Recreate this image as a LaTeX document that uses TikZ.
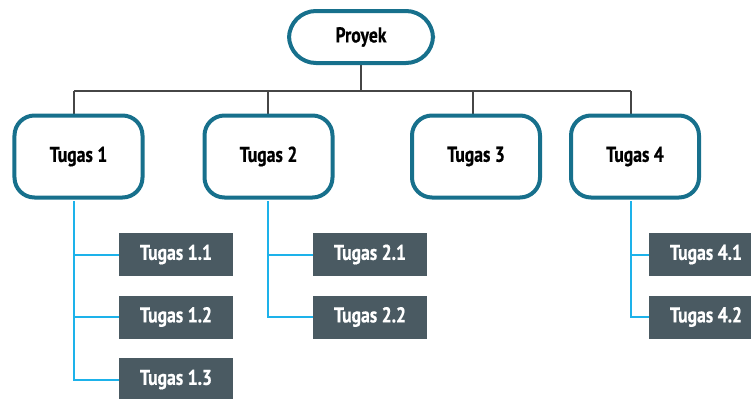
\documentclass[tikz,border=0pt]{standalone}
\usepackage{fontspec}
\setmainfont{PT Sans}[FakeStretch=0.82, BoldFeatures={FakeBold=0.6}]
\definecolor{frame}{HTML}{17708C}
\definecolor{subfill}{HTML}{4A5A62}
\definecolor{trunk}{HTML}{464646}
\definecolor{twig}{HTML}{1DB2EA}
\tikzset{
  x=1bp, y=-1bp,
  label font/.style={font=\fontsize{21.5bp}{24bp}\selectfont\bfseries},
  pill/.style={draw=frame, line width=4bp, fill=white, rounded corners=27bp,
    minimum width=144bp, minimum height=52bp, inner sep=0pt, label font},
  taskbox/.style={draw=frame, line width=4bp, fill=white, rounded corners=20bp,
    minimum width=128bp, minimum height=82bp, inner sep=0pt, label font},
  subbox/.style={fill=subfill, text=white, minimum width=114bp, minimum height=43bp,
    inner sep=0pt, label font},
  treeline/.style={draw=trunk, line width=2bp},
  twigline/.style={draw=twig, line width=2bp},
}
\begin{document}
\begin{tikzpicture}
\useasboundingbox (0,0) rectangle (751,398);

% bus coordinates of the top-level connector
\coordinate (bus) at (361,91);
\coordinate (b1) at (74,91);
\coordinate (b2) at (268,91);
\coordinate (b3) at (473,91);
\coordinate (b4) at (631,91);

% trunk connectors (drawn first, boxes cover their ends)
\draw[treeline] (bus) -- (361,60);
\draw[treeline] (b1) -- (b4);
\draw[treeline] (b1) -- (74,120);
\draw[treeline] (b2) -- (268,120);
\draw[treeline] (b3) -- (473,120);
\draw[treeline] (b4) -- (631,120);

% top level
\node[pill] (proj) at (361,37) {Proyek};

% second level
\node[taskbox] (t1) at (78.5,156.5) {Tugas 1};
\node[taskbox] (t2) at (268.5,156.5) {Tugas 2};
\node[taskbox] (t3) at (476,156.5) {Tugas 3};
\node[taskbox] (t4) at (635,156.5) {Tugas 4};

% third level
\node[subbox] (t11) at (176,254.5) {Tugas 1.1};
\node[subbox] (t12) at (176,317) {Tugas 1.2};
\node[subbox] (t13) at (176,379.5) {Tugas 1.3};
\node[subbox] (t21) at (370,254.5) {Tugas 2.1};
\node[subbox] (t22) at (370,317) {Tugas 2.2};
\node[subbox] (t41) at (706,254.5) {Tugas 4.1};
\node[subbox] (t42) at (706,317) {Tugas 4.2};

% twig connectors
\coordinate (s1) at (74,201);
\coordinate (s2) at (268,201);
\coordinate (s4) at (631,201);
\draw[twigline] (s1) -- (s1 |- t13.west) -- (t13.west);
\draw[twigline] (s1 |- t11.west) -- (t11.west);
\draw[twigline] (s1 |- t12.west) -- (t12.west);
\draw[twigline] (s2) -- (s2 |- t22.west) -- (t22.west);
\draw[twigline] (s2 |- t21.west) -- (t21.west);
\draw[twigline] (s4) -- (s4 |- t42.west) -- (t42.west);
\draw[twigline] (s4 |- t41.west) -- (t41.west);
\end{tikzpicture}
\end{document}
